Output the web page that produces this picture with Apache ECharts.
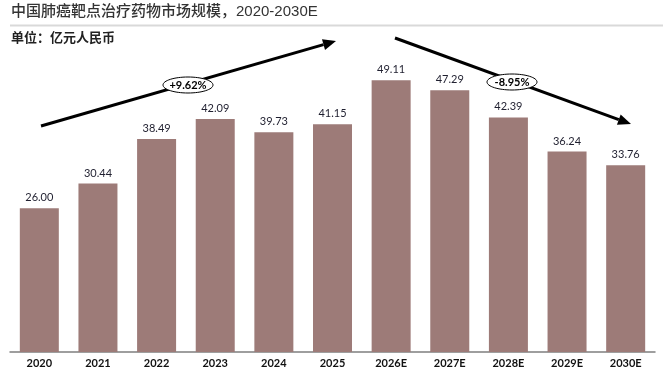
<!DOCTYPE html>
<html><head><meta charset="utf-8">
<script src="https://cdn.jsdelivr.net/npm/echarts@6/dist/echarts.min.js"></script>
<style>html,body{margin:0;padding:0;background:#fff}#c{width:663px;height:372px}</style>
</head><body><div id="c"></div>
<script>
const categories = ['2020','2021','2022','2023','2024','2025','2026E','2027E','2028E','2029E','2030E'];
const marketSize = [26.00, 30.44, 38.49, 42.09, 39.73, 41.15, 49.11, 47.29, 42.39, 36.24, 33.76];
const titleText = '中国肺癌靶点治疗药物市场规模，2020-2030E';
const unitText = '单位：亿元人民币';
const cagrUp = '+9.62%';
const cagrDown = '-8.95%';

const chart = echarts.init(document.getElementById('c'), null, {renderer:'canvas'});

function arrow(x1,y1,x2,y2){
  const ang = Math.atan2(y2-y1,x2-x1);
  const L = 13, W = 5.5;
  const bx = x2 - L*Math.cos(ang), by = y2 - L*Math.sin(ang);
  const px = -Math.sin(ang), py = Math.cos(ang);
  return [
    {type:'line', shape:{x1:x1,y1:y1,x2:bx,y2:by}, style:{stroke:'#000', lineWidth:3}},
    {type:'polygon', shape:{points:[[x2,y2],[bx+px*W,by+py*W],[bx-px*W,by-py*W]]}, style:{fill:'#000'}}
  ];
}
function ellipseLabel(cx,cy,text){
  return [
    {type:'ellipse', shape:{cx:cx,cy:cy,rx:25,ry:8}, style:{fill:'#fff', stroke:'#000', lineWidth:1}, z:10},
    {type:'text', x:cx, y:cy, z:11, style:{text:text, align:'center', verticalAlign:'middle', font:'bold 11px Lato, "Liberation Sans", sans-serif', fill:'#000'}}
  ];
}

const graphics = [].concat(
  [{type:'text', left:11, top:4, style:{text:titleText, font:'500 15px "Liberation Sans", "Noto Sans CJK SC", sans-serif', fill:'#333'}}],
  [{type:'line', shape:{x1:10,y1:25.5,x2:663,y2:25.5}, style:{stroke:'#d9d9d9', lineWidth:2}}],
  [{type:'text', left:11, top:31, style:{text:unitText, font:'bold 13px "Noto Sans CJK SC", sans-serif', fill:'#222'}}],
  arrow(41,126,336,41),
  arrow(395,38,631,124),
  ellipseLabel(188,85,cagrUp),
  ellipseLabel(512,82,cagrDown)
);

chart.setOption({
  animation:false,
  grid:{left:10, right:8, top:20, bottom:20},
  xAxis:{type:'category', data:categories,
    axisLine:{lineStyle:{color:'#7f7f7f', width:1.5}},
    axisTick:{show:false},
    axisLabel:{fontFamily:'Lato, "Liberation Sans", sans-serif', fontWeight:'bold', fontSize:11, color:'#111', margin:6}},
  yAxis:{type:'value', min:0, max:60, show:false, splitLine:{show:false}},
  series:[{type:'bar', data:marketSize, barWidth:39,
    itemStyle:{color:'#9d7b78'},
    label:{show:true, position:'top', distance:5, formatter:p=>p.value.toFixed(2),
      fontFamily:'Lato, "Liberation Sans", sans-serif', fontSize:11, color:'#1f1f2f'}}],
  graphic:graphics
});
</script></body></html>
